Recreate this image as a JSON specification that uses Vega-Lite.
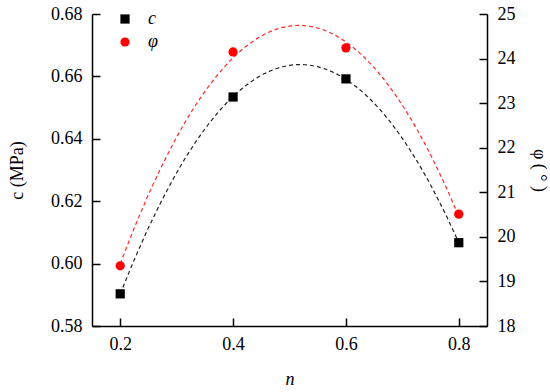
{
  "$schema": "https://vega.github.io/schema/vega-lite/v6.json",
  "width": 395,
  "height": 312,
  "autosize": {"type": "none"},
  "padding": {"left": 92, "top": 14, "right": 63, "bottom": 66},
  "config": {
    "view": {"stroke": null},
    "font": "Liberation Serif",
    "axis": {
      "grid": false,
      "domainColor": "black",
      "domainWidth": 1.5,
      "tickColor": "black",
      "tickWidth": 1.5,
      "tickSize": -8,
      "labelFont": "Liberation Serif",
      "labelFontSize": 18,
      "labelColor": "black",
      "titleFont": "Liberation Serif",
      "titleFontSize": 18,
      "titleFontWeight": "normal",
      "titleColor": "black"
    },
    "legend": {
      "labelFont": "Liberation Serif",
      "labelFontSize": 18,
      "labelFontStyle": "italic",
      "labelColor": "black"
    }
  },
  "datasets": {
    "pts": [
      {"n": 0.2, "var": "c", "value": 0.5903},
      {"n": 0.4, "var": "c", "value": 0.6534},
      {"n": 0.6, "var": "c", "value": 0.6592},
      {"n": 0.8, "var": "c", "value": 0.6067},
      {"n": 0.2, "var": "φ", "value": 19.35},
      {"n": 0.4, "var": "φ", "value": 24.15},
      {"n": 0.6, "var": "φ", "value": 24.24},
      {"n": 0.8, "var": "φ", "value": 20.51}
    ]
  },
  "data": {"name": "pts"},
  "encoding": {
    "x": {
      "field": "n",
      "type": "quantitative",
      "scale": {"domain": [0.15, 0.85], "nice": false, "zero": false},
      "axis": {
        "values": [0.2, 0.4, 0.6, 0.8],
        "format": ".1f",
        "title": "n",
        "titleFontStyle": "italic",
        "labelPadding": 17,
        "titlePadding": 17
      }
    }
  },
  "layer": [
    {
      "transform": [{"filter": "datum.var === 'c'"}],
      "encoding": {
        "y": {
          "field": "value",
          "type": "quantitative",
          "scale": {"domain": [0.58, 0.68], "nice": false, "zero": false},
          "axis": {
            "orient": "left",
            "values": [0.58, 0.6, 0.62, 0.64, 0.66, 0.68],
            "format": ".2f",
            "title": "c (MPa)",
            "labelPadding": 18,
            "titlePadding": 24
          }
        }
      },
      "layer": [
        {
          "transform": [{"regression": "value", "on": "n", "method": "poly", "order": 2, "extent": [0.2, 0.8]}],
          "mark": {"type": "line", "color": "#222222", "strokeWidth": 1.2, "strokeDash": [4, 3]},
          "encoding": {}
        },
        {
          "mark": {"type": "point", "filled": true, "opacity": 1, "size": 85},
          "encoding": {
            "color": {"field": "var", "type": "nominal", "scale": {"domain": ["c", "φ"], "range": ["black", "red"]},
              "legend": {"title": null, "orient": "none", "legendX": 24, "legendY": -4, "rowPadding": 5, "labelOffset": 14, "symbolSize": 85, "symbolStrokeWidth": 0}},
            "shape": {"field": "var", "type": "nominal", "scale": {"domain": ["c", "φ"], "range": ["square", "circle"]}}
          }
        }
      ]
    },
    {
      "transform": [{"filter": "datum.var === 'φ'"}],
      "encoding": {
        "y": {
          "field": "value",
          "type": "quantitative",
          "scale": {"domain": [18, 25], "nice": false, "zero": false},
          "axis": {
            "orient": "right",
            "values": [18, 19, 20, 21, 22, 23, 24, 25],
            "title": "φ ( ° )",
            "titleAngle": 90,
            "labelPadding": 18,
            "titlePadding": 14
          }
        }
      },
      "layer": [
        {
          "transform": [{"regression": "value", "on": "n", "method": "poly", "order": 2, "extent": [0.2, 0.8]}],
          "mark": {"type": "line", "color": "#ff2a2a", "strokeWidth": 1.2, "strokeDash": [4, 3]},
          "encoding": {}
        },
        {
          "mark": {"type": "point", "filled": true, "opacity": 1, "size": 85},
          "encoding": {
            "color": {"field": "var", "type": "nominal", "scale": {"domain": ["c", "φ"], "range": ["black", "red"]}},
            "shape": {"field": "var", "type": "nominal", "scale": {"domain": ["c", "φ"], "range": ["square", "circle"]}}
          }
        }
      ]
    }
  ],
  "resolve": {"scale": {"y": "independent"}}
}
